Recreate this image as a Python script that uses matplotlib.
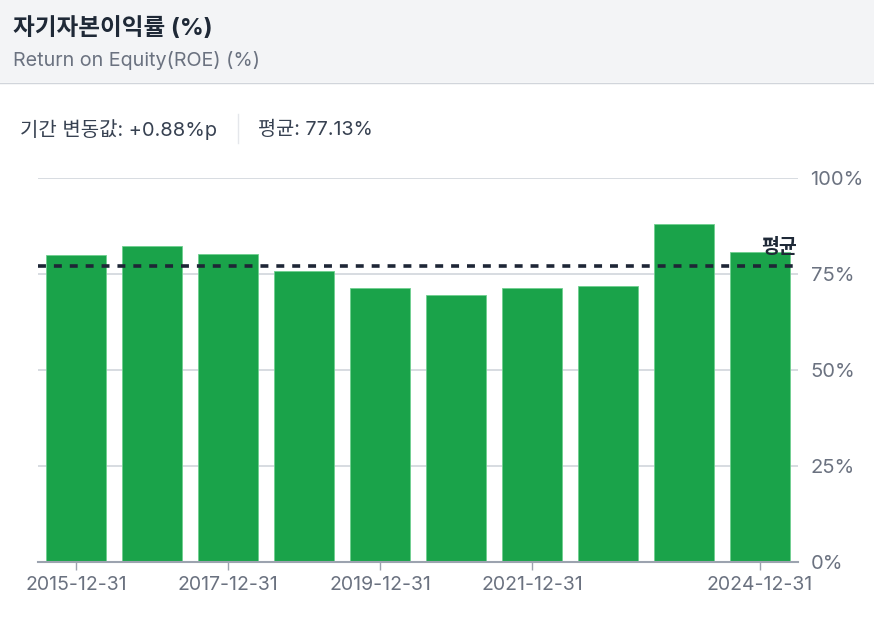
import numpy as np
import matplotlib as mpl
import matplotlib.pyplot as plt
from matplotlib.patches import Rectangle
from matplotlib.lines import Line2D

# data
dates = ["2015-12-31", "2016-12-31", "2017-12-31", "2018-12-31", "2019-12-31",
         "2020-12-31", "2021-12-31", "2022-12-31", "2023-12-31", "2024-12-31"]
roe = [79.95, 82.2, 80.2, 75.9, 71.3, 69.6, 71.3, 71.9, 88.1, 80.83]
avg_value = 77.13
change_value = 0.88
shown_ticks = ["2015-12-31", "2017-12-31", "2019-12-31", "2021-12-31", "2024-12-31"]
y_ticks = [0, 25, 50, 75, 100]

# Inter for latin text, Noto CJK for hangul
plt.rcParams['font.family'] = ['Inter', 'Noto Sans CJK KR', 'DejaVu Sans']

W, H = 874, 620
fig = plt.figure(figsize=(W / 100, H / 100), dpi=100)
fig.patch.set_facecolor("white")

# header band
fig.patches.append(Rectangle((0, 1 - 82 / H), 1, 82 / H, transform=fig.transFigure,
                             facecolor="#f3f4f6", edgecolor="none", zorder=0))
fig.lines.append(Line2D([0, 1], [1 - 82.5 / H] * 2, transform=fig.transFigure,
                        color="#d1d5db", lw=1))
fig.text(13 / W, 1 - 29 / H, "자기자본이익률 (%)", fontsize=17, fontweight="bold",
         color="#1f2937", va="center", ha="left")
fig.text(13 / W, 1 - 61 / H, "Return on Equity(ROE) (%)", fontsize=14.2,
         color="#6b7280", va="center", ha="left")

# stats line
fig.text(20 / W, 1 - 130 / H, f"기간 변동값: +{change_value:.2f}%p", fontsize=14.4,
         color="#374151", va="center", ha="left")
fig.lines.append(Line2D([238 / W] * 2, [1 - 114 / H, 1 - 143 / H], transform=fig.transFigure,
                        color="#e5e7eb", lw=1))
fig.text(258 / W, 1 - 130 / H, f"평균: {avg_value:.2f}%", fontsize=14.2,
         color="#374151", va="center", ha="left")

ax = fig.add_axes([38 / W, (H - 562) / H, 760 / W, 384 / H])
x = np.arange(len(dates))
ax.bar(x, roe, width=0.78, color="#1aa34a", edgecolor="#6fcf8f", linewidth=0.6, zorder=2)
ax.axhline(avg_value, color="#1e2636", lw=2.6, ls=(0, (2.2, 2.2)), zorder=3)
ax.text(len(dates) - 0.5 - 0.02, avg_value + 2.2, "평균", fontsize=14, fontweight="bold",
        color="#1f2937", ha="right", va="bottom", zorder=4)

ax.set_xlim(-0.5, len(dates) - 0.5)
ax.set_ylim(0, 100)
ax.yaxis.tick_right()
ax.set_yticks(y_ticks)
ax.set_yticklabels([f"{v}%" for v in y_ticks], fontsize=14.5, color="#6b7280")
ax.tick_params(axis="y", length=0, pad=9)
ax.grid(axis="y", color="#d1d5db", lw=1.2, zorder=0)
ax.set_axisbelow(True)

tick_pos = [dates.index(d) for d in shown_ticks]
ax.set_xticks(tick_pos)
ax.set_xticklabels(shown_ticks, fontsize=14, color="#6b7280")
ax.tick_params(axis="x", length=6, color="#9ca3af", width=1, pad=4)

for s in ["top", "right", "left"]:
    ax.spines[s].set_visible(False)
ax.spines["bottom"].set_color("#9ca3af")
ax.spines["bottom"].set_linewidth(1.5)

fig.savefig("out.png", dpi=100)
